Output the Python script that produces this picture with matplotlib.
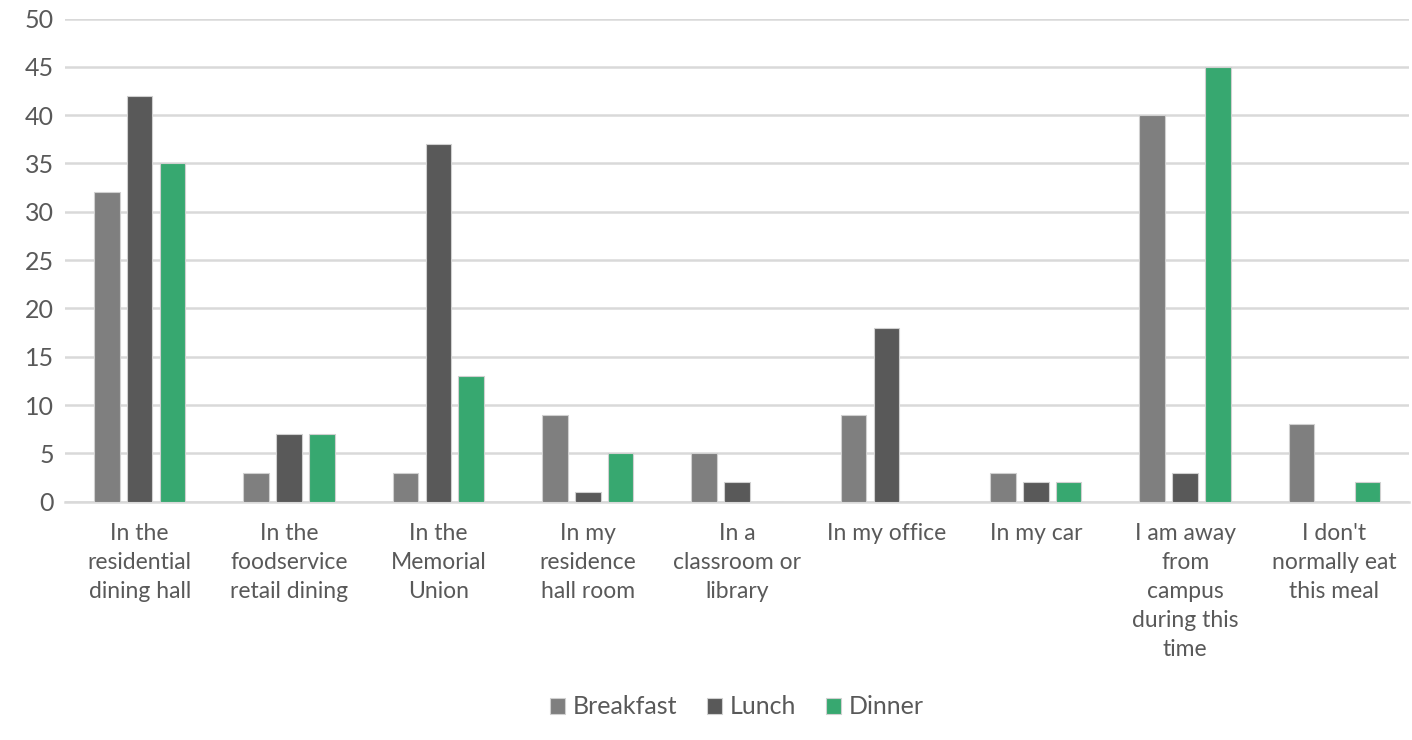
import numpy as np
import matplotlib.pyplot as plt

## data =======================================================================
categories = ["In the\nresidential\ndining hall", "In the\nfoodservice\nretail dining",
              "In the\nMemorial\nUnion", "In my\nresidence\nhall room",
              "In a\nclassroom or\nlibrary", "In my office", "In my car",
              "I am away\nfrom\ncampus\nduring this\ntime",
              "I don't\nnormally eat\nthis meal"]
breakfast = [32, 3, 3, 9, 5, 9, 3, 40, 8]
lunch     = [42, 7, 37, 1, 2, 18, 2, 3, 0]
dinner    = [35, 7, 13, 5, 0, 0, 2, 45, 2]
series = ["Breakfast", "Lunch", "Dinner"]
colors = ["#7f7f7f", "#595959", "#37a870"]
# =============================================================================

plt.rcParams['font.family'] = ['Lato', 'DejaVu Sans']

fig, ax = plt.subplots(figsize=(14.12, 7.4), dpi=100)
fig.subplots_adjust(left=0.046, right=0.998, top=0.975, bottom=0.322)

x = np.arange(len(categories))
w = 0.172
step = 0.22
for i, (vals, name, c) in enumerate(zip([breakfast, lunch, dinner], series, colors)):
    ax.bar(x + (i - 1) * step, vals, width=w, color=c, label=name,
           edgecolor="#d0d0d0", linewidth=0.8, zorder=3)

ax.set_xlim(-0.5, len(categories) - 0.5)
ax.set_ylim(0, 50)
ax.set_yticks(range(0, 51, 5))
ax.set_xticks(x)
ax.set_xticklabels(categories, fontsize=16.5, color="#595959", linespacing=1.48,
                   va="top")
ax.tick_params(axis="y", labelsize=18, labelcolor="#595959", length=0, pad=8)
ax.tick_params(axis="x", length=0, pad=15)
ax.yaxis.grid(True, color="#d9d9d9", linewidth=1.8, zorder=0)
ax.set_axisbelow(True)
for s in ["top", "right", "left"]:
    ax.spines[s].set_visible(False)
ax.spines["bottom"].set_color("#d9d9d9")
ax.spines["bottom"].set_linewidth(1.8)

ax.legend(loc="lower center", bbox_to_anchor=(0.5, -0.495), ncol=3, frameon=False,
          fontsize=18, labelcolor="#595959", handlelength=0.6, handleheight=0.6,
          handletextpad=0.3, columnspacing=1.2)

fig.savefig("out.png", dpi=100)
plt.close()
